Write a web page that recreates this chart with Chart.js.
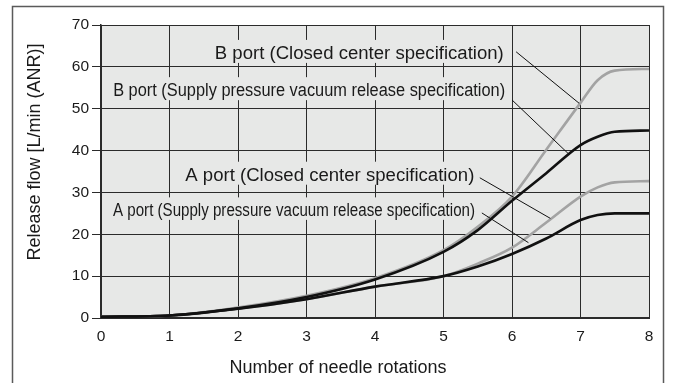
<!DOCTYPE html>
<html>
<head>
<meta charset="utf-8">
<script src="https://cdn.jsdelivr.net/npm/chart.js@4.4.1/dist/chart.umd.min.js"></script>
<style>
  html, body { margin: 0; padding: 0; background: #fff; }
  #wrap { width: 676px; height: 383px; }
</style>
</head>
<body>
<div id="wrap"><canvas id="flowChart" width="676" height="383"></canvas></div>
<script>
// needle rotations vs release flow, four port / spec combinations
const rotations = [0, 1, 2, 3, 4, 5, 5.5, 6, 6.5, 7, 7.25, 7.5, 8];
const bPortClosed = [0.3, 0.6, 2.5, 5.3, 9.5, 16.2, 21.8, 29.0, 40.2, 51.4, 56.8, 59.1, 59.5];
const bPortSupply = [0.3, 0.6, 2.3, 5.0, 9.2, 15.8, 21.0, 28.0, 34.6, 41.3, 43.3, 44.5, 44.8];
const aPortClosed = [0.3, 0.6, 2.2, 4.5, 7.5, 10.0, 13.0, 16.8, 22.8, 29.0, 31.2, 32.4, 32.7];
const aPortSupply = [0.3, 0.6, 2.2, 4.5, 7.5, 10.0, 12.3, 15.3, 19.0, 23.4, 24.6, 25.0, 25.0];

const xTicks = [0, 1, 2, 3, 4, 5, 6, 7, 8];
const yTicks = [0, 10, 20, 30, 40, 50, 60, 70];

const xTitle = 'Number of needle rotations';
const yTitle = 'Release flow [L/min (ANR)]';

const FONT = '"Liberation Sans", Arial, Helvetica, sans-serif';
const GRID = '#2b2b2b';
const BLACK = '#111111';
const GREY = '#a3a3a3';

// callout texts, anchored in data units (right edge / baseline) with leader lines
const notes = [
  { text: 'B port (Closed center specification)', x: 5.88, y: 61.9, size: 18, width: 289,
    from: [6.06, 63.6], to: [6.98, 51.3] },
  { text: 'B port (Supply pressure vacuum release specification)', x: 5.9, y: 53.0, size: 18, width: 392,
    from: [6.0, 52.1], to: [6.82, 39.3] },
  { text: 'A port (Closed center specification)', x: 5.45, y: 32.8, size: 18, width: 289,
    from: [5.53, 33.5], to: [6.56, 23.8] },
  { text: 'A port (Supply pressure vacuum release specification)', x: 5.46, y: 24.4, size: 17.5, width: 362,
    from: [5.56, 25.1], to: [6.24, 18.0] }
];

function toPoints(ys) {
  return rotations.map((x, i) => ({ x: x, y: ys[i] }));
}

function line(label, ys, color, order) {
  return {
    label: label,
    data: toPoints(ys),
    borderColor: color,
    borderWidth: 2.6,
    pointRadius: 0,
    fill: false,
    cubicInterpolationMode: 'monotone',
    order: order
  };
}

const decor = {
  id: 'decor',
  beforeDraw(chart) {
    const { ctx, chartArea: a } = chart;
    ctx.save();
    ctx.fillStyle = '#fff';
    ctx.fillRect(0, 0, chart.width, chart.height);
    ctx.fillStyle = '#e7e8e7';
    ctx.fillRect(a.left, a.top, a.right - a.left, a.bottom - a.top);
    // outer frame of the figure
    ctx.strokeStyle = '#5a5a5a';
    ctx.lineWidth = 1.5;
    ctx.strokeRect(12.5, 6.5, 651, 420);
    ctx.restore();
  },
  afterDatasetsDraw(chart) {
    const { ctx, scales: { x, y } } = chart;
    ctx.save();
    notes.forEach(n => {
      const rx = x.getPixelForValue(n.x);
      const by = y.getPixelForValue(n.y);
      ctx.font = n.size + 'px ' + FONT;
      const w = ctx.measureText(n.text).width;
      ctx.fillStyle = '#e7e8e7';
      ctx.fillRect(rx - n.width - 3, by - n.size - 1, n.width + 6, n.size + 5);
      ctx.save();
      ctx.translate(rx, by);
      ctx.scale(n.width / w, 1);
      ctx.fillStyle = '#1a1a1a';
      ctx.textAlign = 'right';
      ctx.textBaseline = 'alphabetic';
      ctx.fillText(n.text, 0, 0);
      ctx.restore();
      ctx.strokeStyle = '#111';
      ctx.lineWidth = 1;
      ctx.beginPath();
      ctx.moveTo(x.getPixelForValue(n.from[0]), y.getPixelForValue(n.from[1]));
      ctx.lineTo(x.getPixelForValue(n.to[0]), y.getPixelForValue(n.to[1]));
      ctx.stroke();
    });
    ctx.restore();
  },
  afterDraw(chart) {
    const { ctx } = chart;
    ctx.save();
    ctx.fillStyle = '#1a1a1a';
    ctx.font = '18px ' + FONT;
    ctx.textAlign = 'center';
    ctx.textBaseline = 'middle';
    ctx.fillText(xTitle, 338, 368);
    ctx.translate(35, 152);
    ctx.rotate(-Math.PI / 2);
    ctx.fillText(yTitle, 0, 0);
    ctx.restore();
  }
};

new Chart(document.getElementById('flowChart'), {
  type: 'line',
  data: {
    datasets: [
      line('A port (Supply pressure vacuum release specification)', aPortSupply, BLACK, 1),
      line('B port (Supply pressure vacuum release specification)', bPortSupply, BLACK, 1),
      line('A port (Closed center specification)', aPortClosed, GREY, 2),
      line('B port (Closed center specification)', bPortClosed, GREY, 2)
    ]
  },
  options: {
    responsive: false,
    animation: false,
    layout: { padding: { top: 25, right: 27, left: 0, bottom: 0 } },
    plugins: { legend: { display: false }, tooltip: { enabled: false } },
    scales: {
      x: {
        type: 'linear',
        min: 0,
        max: 8,
        afterFit(s) { s.height = 65; },
        afterBuildTicks(s) { s.ticks = xTicks.map(v => ({ value: v })); },
        grid: { color: GRID, lineWidth: 1, drawTicks: false },
        border: { color: GRID, width: 2 },
        ticks: { color: '#1a1a1a', padding: 9, font: { family: FONT, size: 15.5 } }
      },
      y: {
        min: 0,
        max: 70,
        afterFit(s) { s.width = 101; },
        afterBuildTicks(s) { s.ticks = yTicks.map(v => ({ value: v })); },
        grid: { color: GRID, lineWidth: 1, tickLength: 9 },
        border: { color: GRID, width: 1.5 },
        ticks: { color: '#1a1a1a', padding: 3, font: { family: FONT, size: 15.5 } }
      }
    }
  },
  plugins: [decor]
});
</script>
</body>
</html>
